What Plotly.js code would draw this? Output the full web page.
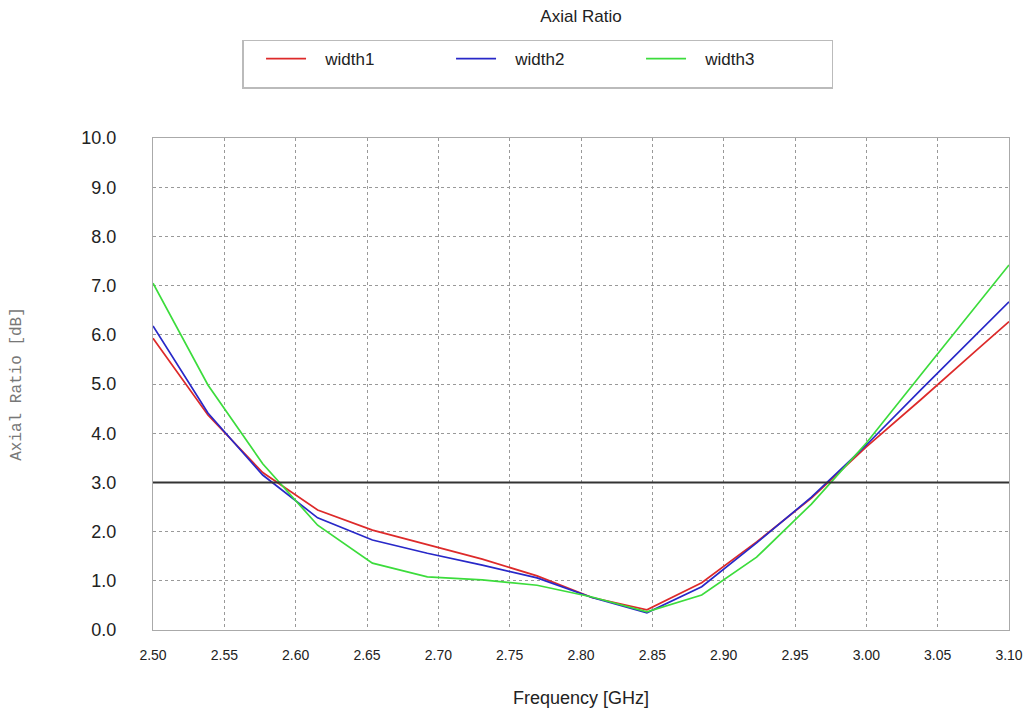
<!DOCTYPE html>
<html>
<head>
<meta charset="utf-8">
<script src="https://cdn.plot.ly/plotly-3.0.1.min.js"></script>
<style>html,body{margin:0;padding:0;background:#fff;}#chart{width:1029px;height:717px;}</style>
</head>
<body>
<div id="chart"></div>
<script>
const freq = [2.5, 2.5385, 2.5769, 2.6154, 2.6538, 2.6923, 2.7308, 2.7692, 2.8077, 2.8462, 2.8846, 2.9231, 2.9615, 3.0, 3.0385, 3.0769, 3.1];
const width1 = [5.93, 4.37, 3.2, 2.44, 2.03, 1.73, 1.44, 1.1, 0.66, 0.41, 0.96, 1.79, 2.68, 3.72, 4.69, 5.68, 6.27];
const width2 = [6.18, 4.41, 3.15, 2.28, 1.83, 1.56, 1.32, 1.06, 0.66, 0.35, 0.88, 1.77, 2.7, 3.76, 4.89, 6.0, 6.67];
const width3 = [7.05, 4.98, 3.38, 2.13, 1.36, 1.08, 1.02, 0.91, 0.67, 0.37, 0.71, 1.48, 2.56, 3.8, 5.2, 6.58, 7.42];
const seriesNames = ["width1", "width2", "width3"];
const seriesColors = ["#dd2a2a", "#2828c8", "#3cdc3c"];
const xTicks = [2.50, 2.55, 2.60, 2.65, 2.70, 2.75, 2.80, 2.85, 2.90, 2.95, 3.00, 3.05, 3.10];
const yTicks = [0, 1, 2, 3, 4, 5, 6, 7, 8, 9, 10];
const threshold = 3.0;

const series = [width1, width2, width3];
const traces = series.map((s, i) => ({
  x: freq, y: s, type: "scatter", mode: "lines",
  name: "\u00a0\u00a0\u00a0" + seriesNames[i],
  line: {color: seriesColors[i], width: 1.7}
}));

const layout = {
  width: 1029, height: 717,
  margin: {l: 153, r: 20, t: 138, b: 87},
  paper_bgcolor: "#fff", plot_bgcolor: "#fff",
  font: {family: "Liberation Sans, Arial, sans-serif", color: "#222"},
  title: {text: "Axial Ratio", font: {size: 17, color: "#222"}, x: 0.5, xref: "paper", y: 0.977, yanchor: "middle"},
  showlegend: true,
  legend: {
    orientation: "h", x: 0.104, xanchor: "left", y: 1.2, yanchor: "top",
    bordercolor: "#bbb", borderwidth: 1.5, bgcolor: "#fff",
    font: {size: 17, color: "#222"}, entrywidth: 135, itemwidth: 40,
    valign: "middle", traceorder: "normal",
    title: {text: "\u00a0", font: {size: 27}, side: "left"}
  },
  xaxis: {
    range: [2.5, 3.1], tickvals: xTicks, ticktext: xTicks.map(v => v.toFixed(2)),
    showgrid: true, gridcolor: "#999", griddash: "dot", gridwidth: 1,
    showline: true, linecolor: "#aaa", linewidth: 1, mirror: true,
    ticks: "", zeroline: false, ticklabelstandoff: 12,
    tickfont: {size: 14, color: "#222"},
    title: {text: "Frequency [GHz]", font: {size: 18, color: "#222"}, standoff: 29}
  },
  yaxis: {
    range: [0, 10], tickvals: yTicks, ticktext: yTicks.map(v => v.toFixed(1)),
    showgrid: true, gridcolor: "#999", griddash: "dot", gridwidth: 1,
    showline: true, linecolor: "#aaa", linewidth: 1, mirror: true,
    ticks: "", zeroline: false, ticklabelstandoff: 32,
    tickfont: {size: 18, color: "#222"},
    title: {text: "Axial Ratio [dB]", font: {family: "Liberation Mono, Courier New, monospace", size: 16, color: "#777"}, standoff: 55}
  },
  shapes: [{
    type: "line", xref: "paper", yref: "y", x0: 0, x1: 1, y0: threshold, y1: threshold,
    line: {color: "#333", width: 2}
  }]
};

Plotly.newPlot("chart", traces, layout, {displayModeBar: false, staticPlot: true});
</script>
</body>
</html>
